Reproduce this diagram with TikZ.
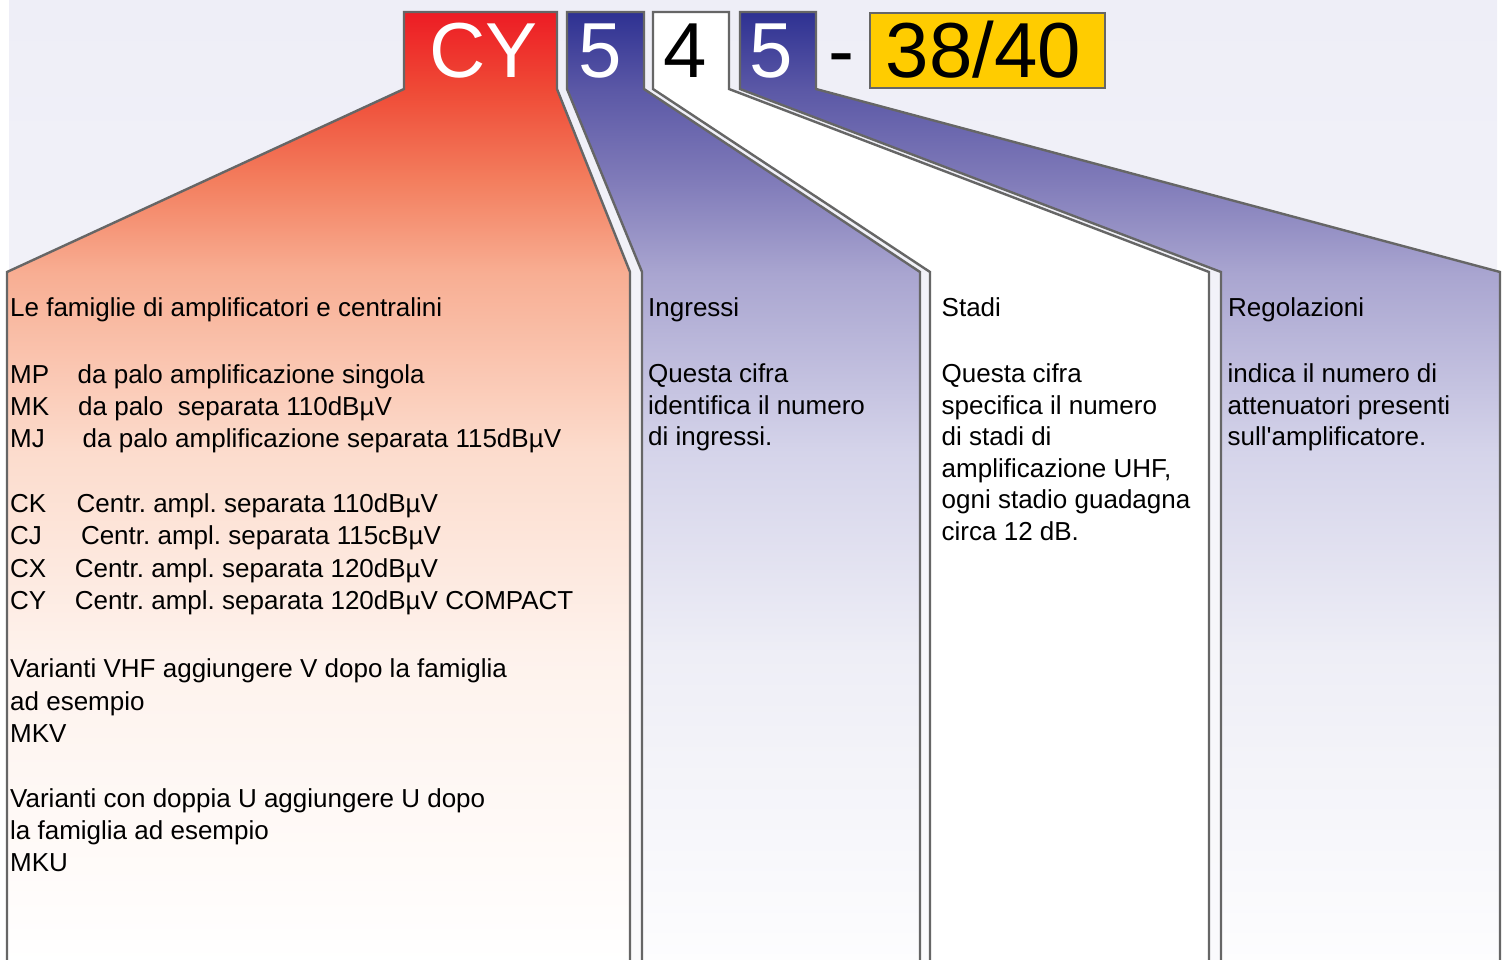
\documentclass[tikz,border=0pt]{standalone}
\usepackage{fontspec}
\newfontfamily\bodyfont{Liberation Sans}
\definecolor{edge}{HTML}{666666}
\definecolor{gold}{HTML}{FFCC00}
\definecolor{bgtop}{HTML}{EEEEF7}
\definecolor{bgbot}{HTML}{FAFAFC}
\definecolor{rA}{HTML}{ED1C24}
\definecolor{rB}{HTML}{EF4A36}
\definecolor{rC}{HTML}{F37E5E}
\definecolor{rD}{HTML}{F8AE93}
\definecolor{rE}{HTML}{FCDCCD}
\definecolor{rF}{HTML}{FEF2EC}
\definecolor{bA}{HTML}{2E3192}
\definecolor{bB}{HTML}{5B58A6}
\definecolor{bC}{HTML}{807BB9}
\definecolor{bD}{HTML}{A9A5D0}
\definecolor{bE}{HTML}{D5D4EA}
\definecolor{bF}{HTML}{EEEEF6}
\definecolor{bG}{HTML}{FDFDFE}
\pgfdeclareverticalshading{redsh}{100bp}{color(0bp)=(white); color(25bp)=(white); color(41.31bp)=(rF); color(51.87bp)=(rE); color(61.27bp)=(rD); color(66.13bp)=(rC); color(70.93bp)=(rB); color(75bp)=(rA); color(100bp)=(rA)}
\pgfdeclareverticalshading{bluesh}{100bp}{color(0bp)=(bG); color(25bp)=(bG); color(41.31bp)=(bF); color(51.87bp)=(bE); color(61.27bp)=(bD); color(66.13bp)=(bC); color(70.93bp)=(bB); color(75bp)=(bA); color(100bp)=(bA)}
\pgfdeclareverticalshading{bgsh}{100bp}{color(0bp)=(bgbot); color(25bp)=(bgbot); color(75bp)=(bgtop); color(100bp)=(bgtop)}
\begin{document}
\frenchspacing
\begin{tikzpicture}[x=1pt,y=-1pt,
  panel/.style={draw=edge, line width=2.4pt, line join=miter},
  txt/.style={anchor=base west, inner sep=0pt, font=\bodyfont\fontsize{26}{31}\selectfont},
  big/.style={anchor=base, inner sep=0pt, font=\bodyfont\fontsize{78}{78}\selectfont}]
\useasboundingbox (0,0) rectangle (1509,959);
\clip (0,0) rectangle (1509,959);
\fill[shading=bgsh] (9,0) rectangle (1497,959);
% panels
\path[panel, shading=redsh] (404,12) -- (557,12) -- (557,89) -- (630,272) -- (630,964) -- (7,964) -- (7,272) -- (404,89) -- cycle;
\path[panel, shading=bluesh] (567,12) -- (644,12) -- (644,89) -- (920,272) -- (920,964) -- (642,964) -- (642,272) -- (567,89) -- cycle;
\path[panel, fill=white] (653,12) -- (729,12) -- (729,89) -- (1209,272) -- (1209,964) -- (930,964) -- (930,272) -- (653,89) -- cycle;
\path[panel, shading=bluesh] (740,12) -- (816,12) -- (816,89) -- (1500,272) -- (1500,964) -- (1221,964) -- (1221,272) -- (740,89) -- cycle;
\path[draw=edge, line width=2.4pt, fill=gold] (870,13) rectangle (1105,88);
% code
\node[big, text=white] (cy) at (483.5,77) {CY};
\node[big, text=white] (d1) at (600.5,77) {5};
\node[big] (d2) at (685.6,77) {4};
\node[big, text=white] (d3) at (771.6,77) {5};
\node[big] (dash) at (841.5,77) {-};
\node[big] (d4) at (983.5,77) {38/40};
% column 1
\node[txt] (t1) at (10,316) {Le famiglie di amplificatori e centralini};
\node[txt] (mp) at (10,383) {MP};
\node[txt] (mpd) at (77.5,383) {da palo amplificazione singola};
\node[txt] (mk) at (10,415) {MK};
\node[txt] (mkd) at (78,415) {da palo\ \ separata 110dBµV};
\node[txt] (mj) at (10,447) {MJ};
\node[txt] (mjd) at (82.5,447) {da palo amplificazione separata 115dBµV};
\node[txt] (ck) at (10,512) {CK};
\node[txt] (ckd) at (76.5,512) {Centr. ampl. separata 110dBµV};
\node[txt] (cj) at (10,544) {CJ};
\node[txt] (cjd) at (80.8,544) {Centr. ampl. separata 115cBµV};
\node[txt] (cx) at (10,577) {CX};
\node[txt] (cxd) at (74.6,577) {Centr. ampl. separata 120dBµV};
\node[txt] (cyl) at (10,609) {CY};
\node[txt] (cyd) at (74.6,609) {Centr. ampl. separata 120dBµV COMPACT};
\node[txt] (v1) at (10,677) {Varianti VHF aggiungere V dopo la famiglia};
\node[txt] (v2) at (10,710) {ad esempio};
\node[txt] (v3) at (10,742) {MKV};
\node[txt] (u1) at (10,807) {Varianti con doppia U aggiungere U dopo};
\node[txt] (u2) at (10,839) {la famiglia ad esempio};
\node[txt] (u3) at (10,871) {MKU};
% column 2
\node[txt] (i0) at (648,316) {Ingressi};
\node[txt] (i1) at (648,382.5) {Questa cifra};
\node[txt] (i2) at (648,414) {identifica il numero};
\node[txt] (i3) at (648,445.5) {di ingressi.};
% column 3
\node[txt] (s0) at (941.5,316) {Stadi};
\node[txt] (s1) at (941.5,382.5) {Questa cifra};
\node[txt] (s2) at (941.5,414) {specifica il numero};
\node[txt] (s3) at (941.5,445.5) {di stadi di};
\node[txt] (s4) at (941.5,477) {amplificazione UHF,};
\node[txt] (s5) at (941.5,508.5) {ogni stadio guadagna};
\node[txt] (s6) at (941.5,540) {circa 12 dB.};
% column 4
\node[txt] (r0) at (1228,316) {Regolazioni};
\node[txt] (r1) at (1227.5,382.5) {indica il numero di};
\node[txt] (r2) at (1227.5,414) {attenuatori presenti};
\node[txt] (r3) at (1227.5,445.5) {sull'amplificatore.};
\end{tikzpicture}
\end{document}
